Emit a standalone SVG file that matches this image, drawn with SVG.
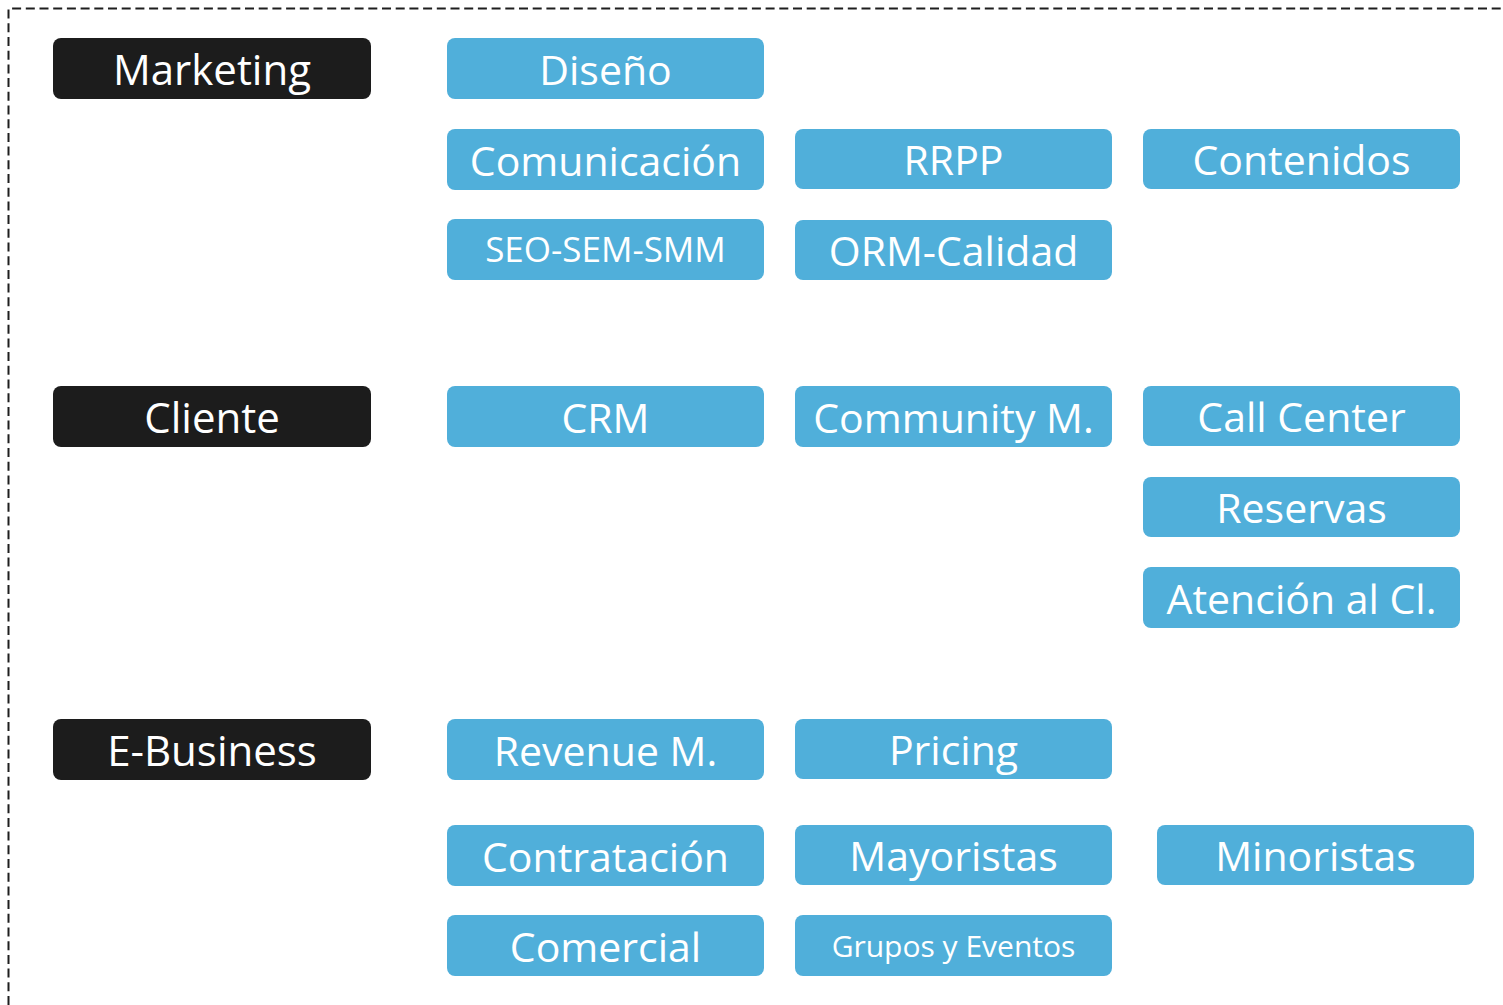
<svg xmlns="http://www.w3.org/2000/svg" width="1503" height="1005" viewBox="0 0 1503 1005">
<style>
.k{fill:#1c1c1c}
.b{fill:#50afda}
text{font-family:"Open Sans","Noto Sans",sans-serif;fill:#fff;text-anchor:middle;font-size:41px}
.s{font-size:35px}
.xs{font-size:30px}
</style>
<rect width="1503" height="1005" fill="#fff"/>
<path d="M8.5,1005 V8.5 H1503" fill="none" stroke="#1e1e1e" stroke-width="2" stroke-dasharray="9,4.7"/>
<g id="connectors"></g>
<g id="marketing"><rect class="k" x="53" y="38" width="318" height="61" rx="8"/><text x="212" y="85" style="font-size:42px">Marketing</text></g>
<g id="cliente"><rect class="k" x="53" y="386" width="318" height="61" rx="8"/><text x="212" y="433" style="font-size:42px">Cliente</text></g>
<g id="ebusiness"><rect class="k" x="53" y="719" width="318" height="61" rx="8"/><text x="212" y="766" style="font-size:42px">E-Business</text></g>
<g id="diseno"><rect class="b" x="447" y="38" width="317" height="61" rx="8"/><text x="605.5" y="85">Diseño</text></g>
<g id="comunicacion"><rect class="b" x="447" y="129" width="317" height="61" rx="8"/><text x="605.5" y="176">Comunicación</text></g>
<g id="rrpp"><rect class="b" x="795" y="129" width="317" height="60" rx="8"/><text x="953.5" y="175">RRPP</text></g>
<g id="contenidos"><rect class="b" x="1143" y="129" width="317" height="60" rx="8"/><text x="1301.5" y="175">Contenidos</text></g>
<g id="seo"><rect class="b" x="447" y="219" width="317" height="61" rx="8"/><text class="s" x="605.5" y="262">SEO-SEM-SMM</text></g>
<g id="orm"><rect class="b" x="795" y="220" width="317" height="60" rx="8"/><text x="953.5" y="266">ORM-Calidad</text></g>
<g id="crm"><rect class="b" x="447" y="386" width="317" height="61" rx="8"/><text x="605.5" y="433">CRM</text></g>
<g id="community"><rect class="b" x="795" y="386" width="317" height="61" rx="8"/><text x="953.5" y="433">Community M.</text></g>
<g id="callcenter"><rect class="b" x="1143" y="386" width="317" height="60" rx="8"/><text x="1301.5" y="432">Call Center</text></g>
<g id="reservas"><rect class="b" x="1143" y="477" width="317" height="60" rx="8"/><text x="1301.5" y="523">Reservas</text></g>
<g id="atencion"><rect class="b" x="1143" y="567" width="317" height="61" rx="8"/><text x="1301.5" y="614">Atención al Cl.</text></g>
<g id="revenue"><rect class="b" x="447" y="719" width="317" height="61" rx="8"/><text x="605.5" y="766">Revenue M.</text></g>
<g id="pricing"><rect class="b" x="795" y="719" width="317" height="60" rx="8"/><text x="953.5" y="765">Pricing</text></g>
<g id="contratacion"><rect class="b" x="447" y="825" width="317" height="61" rx="8"/><text x="605.5" y="872">Contratación</text></g>
<g id="mayoristas"><rect class="b" x="795" y="825" width="317" height="60" rx="8"/><text x="953.5" y="871">Mayoristas</text></g>
<g id="minoristas"><rect class="b" x="1157" y="825" width="317" height="60" rx="8"/><text x="1315.5" y="871">Minoristas</text></g>
<g id="comercial"><rect class="b" x="447" y="915" width="317" height="61" rx="8"/><text x="605.5" y="962">Comercial</text></g>
<g id="grupos"><rect class="b" x="795" y="915" width="317" height="61" rx="8"/><text class="xs" x="953.5" y="957">Grupos y Eventos</text></g>
</svg>
